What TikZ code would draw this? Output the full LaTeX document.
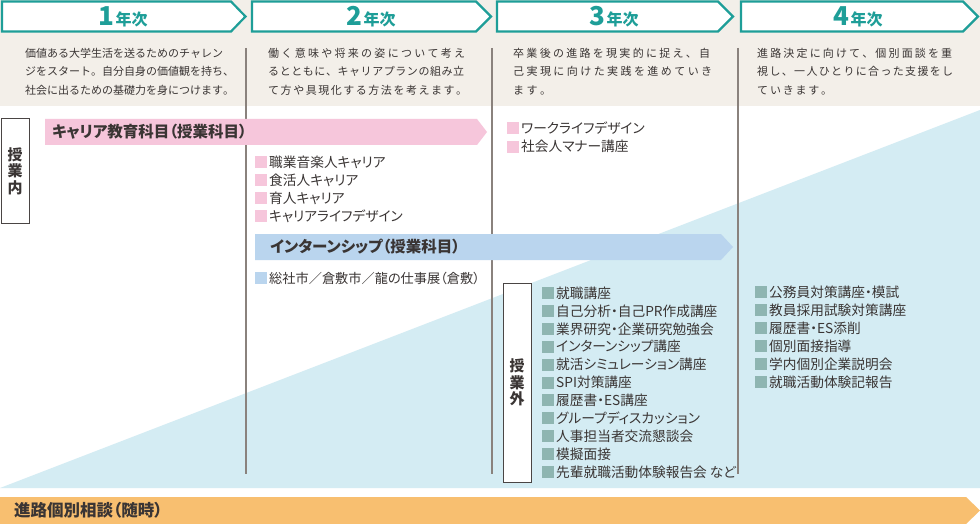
\documentclass[tikz,border=0pt]{standalone}
\usepackage{fontspec}
\newfontfamily\jp{Noto Sans CJK JP}
\newfontfamily\jpp[RawFeature=+palt]{Noto Sans CJK JP}
\definecolor{teal1}{HTML}{1E9E98}
\definecolor{beige}{HTML}{F3EFE9}
\definecolor{txt}{HTML}{3A3534}
\definecolor{divc}{HTML}{8A827D}
\definecolor{pinkc}{HTML}{F6C6DB}
\definecolor{bluec}{HTML}{BAD5EE}
\definecolor{tric}{HTML}{D4ECF3}
\definecolor{tealb}{HTML}{8EB5B1}
\definecolor{orangec}{HTML}{F8BF70}
\definecolor{boxc}{HTML}{4A4544}
\ExplSyntaxOn
\NewDocumentCommand\jl{mm}{\hbox_to_wd:nn{#1}{\tl_map_inline:nn{#2}{##1\hfil}\unskip}}
\ExplSyntaxOff
\newcommand\bul[1]{\textcolor{#1}{\rule[-0.85pt]{12pt}{12pt}}\hspace{2pt}}
\tikzset{
  hdbox/.style={draw=teal1, line width=2.2pt, fill=white, line join=miter},
  hdtxt/.style={anchor=base, inner sep=0pt, text=teal1, font=\jp\bfseries},
  desc/.style={anchor=west, inner sep=0pt, text=txt, font=\jp\fontsize{11}{13}\selectfont, text height=9.7pt, text depth=1.3pt},
  item/.style={anchor=west, inner sep=0pt, text=txt, font=\jpp\fontsize{13.7}{16}\selectfont, text height=12.05pt, text depth=1.65pt},
  ttl/.style={anchor=west, inner sep=0pt, text=txt, font=\jpp\bfseries\fontsize{15.5}{18}\selectfont, text height=13.6pt, text depth=1.9pt},
  vbox/.style={draw=boxc, line width=1pt, fill=white, inner sep=0pt, align=center, text=txt, font=\jp\bfseries\fontsize{15}{16.5}\selectfont},
  divline/.style={draw=divc, line width=1.2pt},
}
\begin{document}
\begin{tikzpicture}[x=1pt,y=-1pt]
\useasboundingbox (0,0) rectangle (980,524);
% backgrounds
\fill[white] (0,0) rectangle (980,524);
\fill[beige] (0,0) rectangle (980,106.5);
\fill[tric] (0,488) -- (980,110) -- (980,488) -- cycle;
% headers
\path[hdbox] (2,1.5) -- (231,1.5) -- (245.5,16.5) -- (231,31.5) -- (2,31.5) -- cycle;
\path[hdbox] (252,1.5) -- (476,1.5) -- (491,16.5) -- (476,31.5) -- (252,31.5) -- cycle;
\path[hdbox] (497,1.5) -- (718,1.5) -- (733,16.5) -- (718,31.5) -- (497,31.5) -- cycle;
\path[hdbox] (741,1.5) -- (963,1.5) -- (978,16.5) -- (963,31.5) -- (741,31.5) -- cycle;
\node[hdtxt] (h1) at (123,26) {\fontsize{26}{26}\selectfont 1\fontsize{16}{16}\selectfont\hspace{1.5pt}年次};
\node[hdtxt] (h2) at (371,26) {\fontsize{26}{26}\selectfont 2\fontsize{16}{16}\selectfont\hspace{1.5pt}年次};
\node[hdtxt] (h3) at (614,26) {\fontsize{26}{26}\selectfont 3\fontsize{16}{16}\selectfont\hspace{1.5pt}年次};
\node[hdtxt] (h4) at (858,26) {\fontsize{26}{26}\selectfont 4\fontsize{16}{16}\selectfont\hspace{1.5pt}年次};
% descriptions
\node[desc] (d1a) at (25,53) {\jl{198pt}{価値ある大学生活を送るためのチャレン}};
\node[desc] (d1b) at (25,71.5) {\jl{209pt}{ジをスタート。自分自身の価値観を持ち、}};
\node[desc] (d1c) at (25,90) {\jl{209pt}{社会に出るための基礎力を身につけます。}};
\node[desc] (d2a) at (268,53) {\jl{197pt}{働く意味や将来の姿について考え}};
\node[desc] (d2b) at (268,71.5) {\jl{196pt}{るとともに、キャリアプランの組み立}};
\node[desc] (d2c) at (268,90) {\jl{199pt}{て方や具現化する方法を考えます。}};
\node[desc] (d3a) at (513,53) {\jl{197pt}{卒業後の進路を現実的に捉え、自}};
\node[desc] (d3b) at (513,71.5) {\jl{199pt}{己実現に向けた実践を進めていき}};
\node[desc] (d3c) at (513,90) {\jl{38pt}{ます。}};
\node[desc] (d4a) at (757,53) {\jl{195pt}{進路決定に向けて、個別面談を重}};
\node[desc] (d4b) at (757,71.5) {\jl{196pt}{視し、一人ひとりに合った支援をし}};
\node[desc] (d4c) at (757,90) {\jl{75pt}{ていきます。}};
% dividers
\coordinate (v1t) at (246,48); \coordinate (v1b) at (246,474);
\coordinate (v2t) at (492,48); \coordinate (v2b) at (492,474);
\coordinate (v3t) at (738,48); \coordinate (v3b) at (738,474);
\draw[divline] (v1t) -- (v1b);
\draw[divline] (v2t) -- (v2b);
\draw[divline] (v3t) -- (v3b);
% band arrows
\fill[pinkc] (45,119) -- (477,119) -- (487,132) -- (477,145) -- (45,145) -- cycle;
\node[ttl] (pk) at (52,132) {キャリア教育科目（授業科目）};
\fill[bluec] (255,234) -- (721,234) -- (733,247) -- (721,260) -- (255,260) -- cycle;
\node[ttl] (bl) at (270,247) {インターンシップ（授業科目）};
\fill[orangec] (0,497) -- (966,497) -- (980,510.5) -- (966,524) -- (0,524) -- cycle;
\node[ttl, font=\jpp\bfseries\fontsize{16.5}{18}\selectfont] (or) at (14,511) {進路個別相談（随時）};
% side boxes
\node[vbox, minimum width=28pt, minimum height=104pt] (inb) at (15,171) {授\\業\\内};
\node[vbox, minimum width=28pt, minimum height=199pt] (outb) at (517,382.5) {授\\業\\外};
% column 2 items
\node[item] (p1) at (255,162) {\bul{pinkc}職業音楽人キャリア};
\node[item] (p2) at (255,180) {\bul{pinkc}食活人キャリア};
\node[item] (p3) at (255,198) {\bul{pinkc}育人キャリア};
\node[item] (p4) at (255,216) {\bul{pinkc}キャリアライフデザイン};
\node[item, font=\jpp\fontsize{13.2}{16}\selectfont] (b1) at (255,278) {\bul{bluec}総社市／倉敷市／龍の仕事展（倉敷）};
% column 3 items
\node[item] (p5) at (507,128) {\bul{pinkc}ワークライフデザイン};
\node[item] (p6) at (507,146.5) {\bul{pinkc}社会人マナー講座};
\node[item] (s1) at (542,293) {\bul{tealb}就職講座};
\node[item] (s2) at (542,310.9) {\bul{tealb}自己分析・自己PR作成講座};
\node[item] (s3) at (542,328.8) {\bul{tealb}業界研究・企業研究勉強会};
\node[item] (s4) at (542,346.7) {\bul{tealb}インターンシップ講座};
\node[item] (s5) at (542,364.6) {\bul{tealb}就活シミュレーション講座};
\node[item] (s6) at (542,382.5) {\bul{tealb}SPI対策講座};
\node[item] (s7) at (542,400.4) {\bul{tealb}履歴書・ES講座};
\node[item] (s8) at (542,418.3) {\bul{tealb}グループディスカッション};
\node[item] (s9) at (542,436.2) {\bul{tealb}人事担当者交流懇談会};
\node[item] (s10) at (542,454.1) {\bul{tealb}模擬面接};
\node[item] (s11) at (542,472) {\bul{tealb}先輩就職活動体験報告会\hspace{3pt}など};
% column 4 items
\node[item] (t1) at (755,292) {\bul{tealb}公務員対策講座・模試};
\node[item] (t2) at (755,310) {\bul{tealb}教員採用試験対策講座};
\node[item] (t3) at (755,328) {\bul{tealb}履歴書・ES添削};
\node[item] (t4) at (755,346) {\bul{tealb}個別面接指導};
\node[item] (t5) at (755,364) {\bul{tealb}学内個別企業説明会};
\node[item] (t6) at (755,382) {\bul{tealb}就職活動体験記報告};
\end{tikzpicture}
\end{document}
